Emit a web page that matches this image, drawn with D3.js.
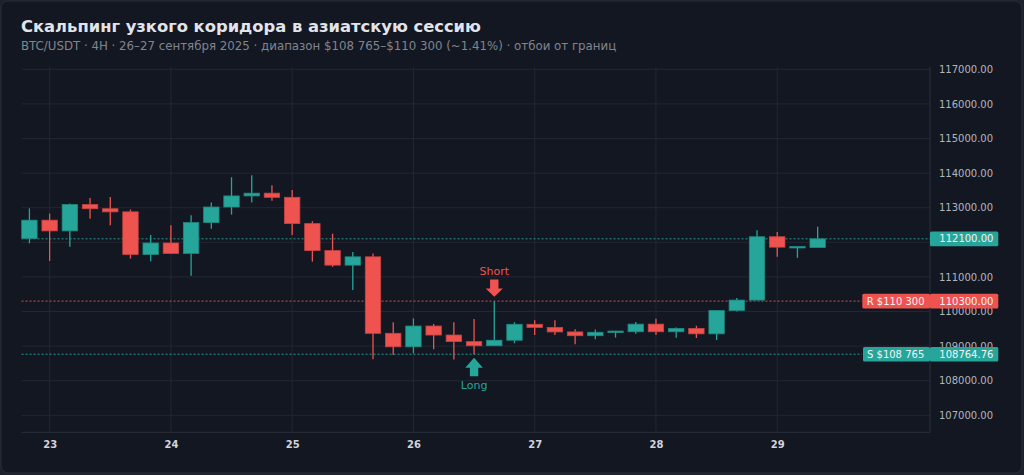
<!DOCTYPE html>
<html><head><meta charset="utf-8">
<script src="https://cdn.jsdelivr.net/npm/d3@7/dist/d3.min.js"></script>
<style>
html,body{margin:0;padding:0;background:#1d212b;}
svg{display:block;}
</style></head>
<body>
<svg id="chart" width="1024" height="475"></svg>
<script>
// ---- data ----
const times = [
 "2025-09-22T20:00Z","2025-09-23T00:00Z","2025-09-23T04:00Z","2025-09-23T08:00Z","2025-09-23T12:00Z","2025-09-23T16:00Z","2025-09-23T20:00Z",
 "2025-09-24T00:00Z","2025-09-24T04:00Z","2025-09-24T08:00Z","2025-09-24T12:00Z","2025-09-24T16:00Z","2025-09-24T20:00Z",
 "2025-09-25T00:00Z","2025-09-25T04:00Z","2025-09-25T08:00Z","2025-09-25T12:00Z","2025-09-25T16:00Z","2025-09-25T20:00Z",
 "2025-09-26T00:00Z","2025-09-26T04:00Z","2025-09-26T08:00Z","2025-09-26T12:00Z","2025-09-26T16:00Z","2025-09-26T20:00Z",
 "2025-09-27T00:00Z","2025-09-27T04:00Z","2025-09-27T08:00Z","2025-09-27T12:00Z","2025-09-27T16:00Z","2025-09-27T20:00Z",
 "2025-09-28T00:00Z","2025-09-28T04:00Z","2025-09-28T08:00Z","2025-09-28T12:00Z","2025-09-28T16:00Z","2025-09-28T20:00Z",
 "2025-09-29T00:00Z","2025-09-29T04:00Z","2025-09-29T08:00Z"
];
const open  = [112110,112640,112330,113090,112970,112880,111650,111980,111680,112570,113020,113340,113420,113300,112540,111760,111340,111580,109370,108980,109580,109320,109130,109010,109170,109630,109540,109410,109300,109400,109415,109635,109415,109510,109355,110030,110330,112160,111840,111850];
const high  = [112980,112830,113120,113280,113310,112950,112210,112490,112780,113150,113880,113940,113650,113510,112610,112250,111720,111680,109690,109800,109640,109690,109780,110300,109690,109750,109750,109490,109480,109440,109700,109790,109540,109590,110030,110390,112350,112300,111880,112450];
const low   = [111970,111460,111870,112680,112490,111530,111450,111660,111030,112390,112800,113150,113200,112210,111440,111290,110620,108620,108740,108790,108910,108610,108765,109000,109080,109320,109320,109055,109195,109245,109360,109320,109245,109235,109175,110000,110330,111580,111550,111850];
const close = [112640,112330,113090,112970,112880,111650,111980,111680,112570,113020,113340,113420,113300,112540,111760,111340,111580,109370,108980,109580,109320,109130,109010,109170,109630,109540,109410,109300,109400,109435,109635,109415,109510,109355,110030,110330,112160,111860,111880,112100];

const yTicks = [107000,108000,109000,110000,111000,113000,114000,115000,116000,117000];
const yGrid = [107000,108000,109000,110000,111000,112000,113000,114000,115000,116000,117000];
const xTickDays = ["2025-09-23","2025-09-24","2025-09-25","2025-09-26","2025-09-27","2025-09-28","2025-09-29"];
const xTickLabels = ["23","24","25","26","27","28","29"];
const xDomain = ["2025-09-22T18:26Z","2025-09-30T06:14Z"];
const yDomain = [106509, 117075];

const resistance = 110300, resistanceLabel = "R $110 300", resistanceTag = "110300.00";
const support = 108764.76, supportLabel = "S $108 765", supportTag = "108764.76";
const lastPrice = 112100, lastTag = "112100.00";
const signals = [
  {time:"2025-09-26T12:00Z", type:"long",  price:108765, text:"Long"},
  {time:"2025-09-26T16:00Z", type:"short", price:110300, text:"Short"}
];
const titleText = "Скальпинг узкого коридора в азиатскую сессию";
const subtitleText = "BTC/USDT · 4H · 26–27 сентября 2025 · диапазон $108 765–$110 300 (~1.41%) · отбои от границ";

// ---- drawing ----
const UP = "#26a69a", DOWN = "#ef5350";
const FONT = "'DejaVu Sans', Verdana, sans-serif";
const svg = d3.select("#chart");
const plot = {left:21.5, right:930, top:66.7, bottom:432.3};

svg.append("rect").attr("x",1).attr("y",1).attr("width",1021).attr("height",472)
  .attr("rx",7).attr("fill","#131722").attr("stroke","#2a2e39").attr("stroke-width",1);

svg.append("text").attr("x",21).attr("y",32).attr("fill","#e1e4ea")
  .attr("font-family",FONT).attr("font-weight","bold").attr("font-size",16.35).text(titleText);
svg.append("text").attr("x",21).attr("y",50).attr("fill","#80858f")
  .attr("font-family",FONT).attr("font-size",11.8).text(subtitleText);

const x = d3.scaleUtc().domain(xDomain.map(d=>new Date(d))).range([plot.left, plot.right]);
const y = d3.scaleLinear().domain(yDomain).range([plot.bottom, plot.top]);

const g = svg.append("g");
// grid
g.selectAll(".hg").data(yGrid).join("line")
  .attr("x1",plot.left).attr("x2",plot.right).attr("y1",d=>y(d)).attr("y2",d=>y(d))
  .attr("stroke","#222733").attr("stroke-width",1);
g.selectAll(".vg").data(xTickDays).join("line")
  .attr("x1",d=>x(new Date(d+"T00:00Z"))).attr("x2",d=>x(new Date(d+"T00:00Z")))
  .attr("y1",plot.top).attr("y2",plot.bottom)
  .attr("stroke","#222733").attr("stroke-width",1);

// axes lines
g.append("line").attr("x1",plot.right).attr("x2",plot.right).attr("y1",plot.top).attr("y2",plot.bottom)
  .attr("stroke","#2c313c");
g.append("line").attr("x1",plot.left).attr("x2",plot.right).attr("y1",plot.bottom).attr("y2",plot.bottom)
  .attr("stroke","#2c313c");

// right axis
const yAxis = d3.axisRight(y).tickValues(yTicks).tickFormat(d3.format(".2f")).tickSize(0).tickPadding(9);
const ya = svg.append("g").attr("transform",`translate(${plot.right},0)`).call(yAxis);
ya.select(".domain").remove();
ya.selectAll("text").attr("fill","#b2b5be").attr("font-family",FONT).attr("font-size",10);

// bottom axis
const xAxis = d3.axisBottom(x).tickValues(xTickDays.map(d=>new Date(d+"T00:00Z")))
  .tickFormat((d,i)=>xTickLabels[i]).tickSize(0).tickPadding(9);
const xa = svg.append("g").attr("transform",`translate(0,${plot.bottom})`).call(xAxis);
xa.select(".domain").remove();
xa.selectAll("text").attr("fill","#d1d4dc").attr("font-family",FONT).attr("font-size",10).attr("font-weight","bold");

// level lines
function dotted(v,color,x2){
  g.append("line").attr("x1",plot.left).attr("x2",x2).attr("y1",y(v)).attr("y2",y(v))
    .attr("stroke",color).attr("stroke-width",1).attr("stroke-dasharray","2,2").attr("opacity",0.9);
}
dotted(lastPrice, UP, plot.right);
dotted(resistance, DOWN, 862);
dotted(support, UP, 862);

// candles
const candles = times.map((t,i)=>({t:new Date(t),o:open[i],h:high[i],l:low[i],c:close[i]}));
const bw = 15.4;
const cg = svg.append("g");
cg.selectAll(".wick").data(candles).join("line")
  .attr("x1",d=>x(d.t)).attr("x2",d=>x(d.t)).attr("y1",d=>y(d.h)).attr("y2",d=>y(d.l))
  .attr("stroke",d=>d.c>=d.o?UP:DOWN).attr("stroke-width",1.3);
cg.selectAll(".body").data(candles).join("rect")
  .attr("x",d=>x(d.t)-bw/2).attr("width",bw)
  .attr("y",d=>y(Math.max(d.o,d.c)))
  .attr("height",d=>Math.max(1.5,Math.abs(y(d.o)-y(d.c))))
  .attr("fill",d=>d.c>=d.o?UP:DOWN)
  .attr("stroke",d=>d.c>=d.o?"#1f8a80":"#c94442").attr("stroke-width",0.8);

// signals
signals.forEach(s=>{
  const cx = x(new Date(s.time));
  if(s.type==="short"){
    const tip = y(s.price)-4.3;
    svg.append("path").attr("fill",DOWN)
      .attr("d",`M${cx-4.2},${tip-17.4}H${cx+4.2}V${tip-8.4}H${cx+8.6}L${cx},${tip}L${cx-8.6},${tip-8.4}H${cx-4.2}Z`);
    svg.append("text").attr("x",cx).attr("y",tip-21.7).attr("text-anchor","middle")
      .attr("fill",DOWN).attr("font-family",FONT).attr("font-size",11).text(s.text);
  } else {
    const tip = y(s.price)+3.5;
    svg.append("path").attr("fill",UP)
      .attr("d",`M${cx-4.2},${tip+18.5}H${cx+4.2}V${tip+10}H${cx+8.8}L${cx},${tip}L${cx-8.8},${tip+10}H${cx-4.2}Z`);
    svg.append("text").attr("x",cx).attr("y",tip+31).attr("text-anchor","middle")
      .attr("fill",UP).attr("font-family",FONT).attr("font-size",11).text(s.text);
  }
});

// tags
function tag(x0,x1,v,color,text,tx){
  svg.append("rect").attr("x",x0).attr("y",y(v)-7.3).attr("width",x1-x0).attr("height",14.6)
    .attr("rx",1.5).attr("fill",color);
  svg.append("text").attr("x",tx).attr("y",y(v)).attr("dy","0.35em").attr("fill","#f2f4f7")
    .attr("font-family",FONT).attr("font-size",10).text(text);
}
tag(930,998.3,lastPrice,UP,lastTag,939.3);
tag(862.3,930,resistance,DOWN,resistanceLabel,866.7);
tag(930,998.3,resistance,DOWN,resistanceTag,939.3);
tag(863,930,support,UP,supportLabel,867);
tag(930,998.3,support,UP,supportTag,939.3);
</script>
</body></html>
